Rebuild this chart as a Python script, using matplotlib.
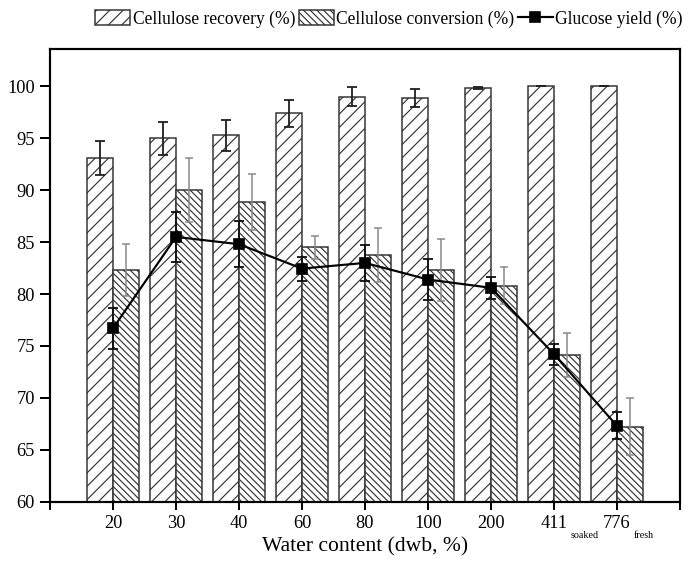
import matplotlib.pyplot as plt
import numpy as np

# data
categories = ['20', '30', '40', '60', '80', '100', '200', '411', '776']
tick_subs = ['', '', '', '', '', '', '', 'soaked', 'fresh']

recovery = [93.1, 95.0, 95.3, 97.4, 99.0, 98.9, 99.8, 100.0, 100.0]
recovery_err = [1.6, 1.6, 1.5, 1.3, 0.9, 0.85, 0.1, 0, 0]
conversion = [82.3, 90.0, 88.9, 84.5, 83.8, 82.3, 80.8, 74.1, 67.2]
conversion_err = [2.5, 3.1, 2.7, 1.1, 2.6, 3.0, 1.8, 2.1, 2.75]
glucose = [76.7, 85.5, 84.8, 82.45, 83.0, 81.4, 80.6, 74.2, 67.3]
glucose_err = [2.0, 2.4, 2.2, 1.15, 1.7, 1.95, 1.05, 1.0, 1.3]

plt.rcParams['font.family'] = ['Liberation Serif', 'DejaVu Serif']
plt.rcParams['hatch.linewidth'] = 0.7
plt.rcParams['hatch.color'] = '#333333'

dpi = 120
fig = plt.figure(figsize=(692 / dpi, 564 / dpi), dpi=dpi)
ax = fig.add_axes([50 / 692, 1 - 501.7 / 564, 630 / 692, 452.7 / 564])

x = np.arange(len(categories))
w = 0.41

b1 = ax.bar(x - w / 2, recovery, w, color='white', edgecolor='#333333',
            linewidth=0.9, hatch='///', label='Cellulose recovery (%)', zorder=2)
b2 = ax.bar(x + w / 2, conversion, w, color='white', edgecolor='#333333',
            linewidth=0.9, hatch='\\' * 6, label='Cellulose conversion (%)', zorder=2)

ax.errorbar(x - w / 2, recovery, yerr=recovery_err, fmt='none', ecolor='#222222',
            elinewidth=1.1, capsize=3, capthick=1.1, zorder=3)
ax.errorbar(x + w / 2, conversion, yerr=conversion_err, fmt='none', ecolor='#888888',
            elinewidth=0.9, capsize=2.5, capthick=0.9, zorder=3)
ax.errorbar(x, glucose, yerr=glucose_err, fmt='none', ecolor='#111111',
            elinewidth=1.1, capsize=3, capthick=1.1, zorder=4)
line, = ax.plot(x, glucose, color='black', linewidth=1.3, marker='s',
                markersize=5.5, label='Glucose yield (%)', zorder=5)

ax.set_xlim(-1, 9)
ax.set_ylim(60, 103.6)
ax.set_yticks(np.arange(60, 101, 5))
ax.set_xticks(x)
ax.set_xticklabels(categories)
ax.set_xticks([-1, 9], minor=True)
ax.tick_params(axis='both', which='major', direction='out', width=1.2,
               labelsize=11, pad=3)
ax.tick_params(axis='y', which='major', length=6)
ax.tick_params(axis='x', which='both', length=5)
ax.tick_params(axis='x', which='minor', direction='out', width=1.2)
for s in ax.spines.values():
    s.set_linewidth(1.3)

for i, sub in enumerate(tick_subs):
    if sub:
        ax.annotate(sub, xy=(x[i], 0), xycoords=('data', 'axes fraction'),
                    xytext=(10, -20), textcoords='offset points', fontsize=6,
                    ha='left', va='center')

ax.set_xlabel('Water content (dwb, %)', fontsize=13, labelpad=3)

fig.legend(handles=[b1, b2, line], loc='center', bbox_to_anchor=(0.562, 0.966),
           ncol=3, frameon=False, fontsize=10.5, handlelength=2.0, handleheight=0.9,
           handletextpad=0.15, columnspacing=0.2, borderaxespad=0, borderpad=0)

fig.savefig('out.png', dpi=dpi)
